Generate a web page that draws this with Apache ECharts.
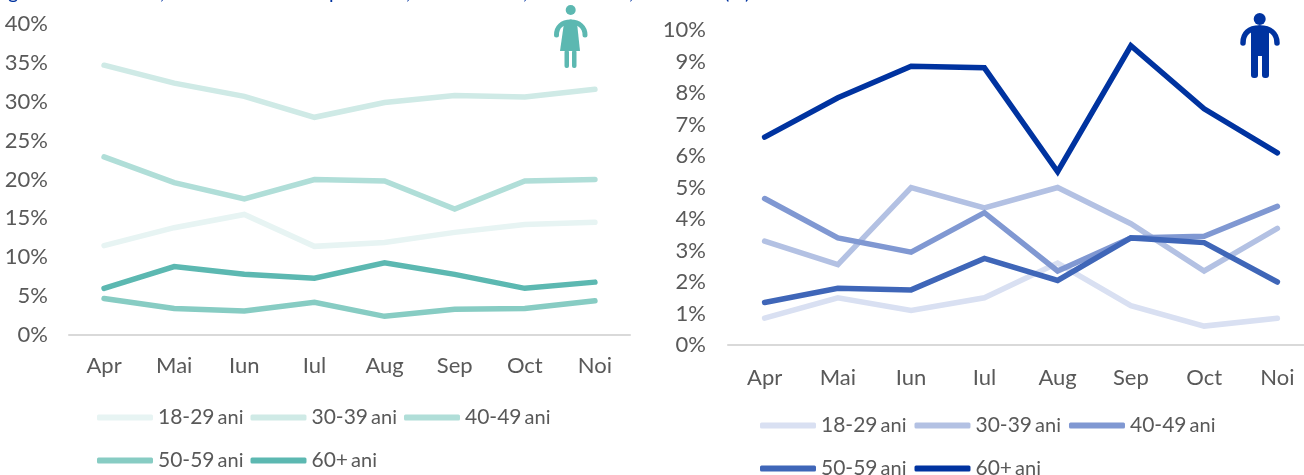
<!DOCTYPE html>
<html><head><meta charset="utf-8">
<style>html,body{margin:0;padding:0;background:#fff}#c{width:1304px;height:475px}</style>
<script src="https://cdn.jsdelivr.net/npm/echarts@6/dist/echarts.min.js"></script>
</head><body><div id="c"></div>
<script>
const months = ['Apr','Mai','Iun','Iul','Aug','Sep','Oct','Noi'];
const groups = ['18-29 ani','30-39 ani','40-49 ani','50-59 ani','60+ ani'];
const women18 = [11.5,13.8,15.5,11.4,11.9,13.2,14.2,14.5];
const women30 = [34.7,32.4,30.7,28.0,29.9,30.8,30.6,31.6];
const women40 = [22.9,19.6,17.5,20.0,19.8,16.2,19.8,20.0];
const women50 = [4.7,3.4,3.1,4.2,2.4,3.3,3.4,4.4];
const women60 = [6.0,8.8,7.8,7.3,9.3,7.8,6.0,6.8];
const men18 = [0.85,1.5,1.1,1.5,2.6,1.25,0.6,0.85];
const men30 = [3.3,2.55,5.0,4.35,5.0,3.85,2.35,3.7];
const men40 = [4.65,3.4,2.95,4.2,2.35,3.4,3.45,4.4];
const men50 = [1.35,1.8,1.75,2.75,2.05,3.4,3.25,2.0];
const men60 = [6.6,7.85,8.85,8.8,5.5,9.5,7.5,6.1];
const womenColors = ['#e7f4f3','#cfeae6','#b0ded8','#87ccc3','#5cb8b1'];
const menColors = ['#d9e0f2','#b3c1e3','#8098d2','#3f66b8','#0033a0'];
const FONT = 'Lato, "Open Sans", sans-serif';
const GREY = '#595959';

function mkSeries(vals, colors, ax, w){
  return vals.map((d,i)=>({
    name:groups[i], type:'line', data:d, xAxisIndex:ax, yAxisIndex:ax,
    symbol:'none', smooth:false, z:2+i,
    lineStyle:{color:colors[i],width:w,cap:'round',join:'miter'},
    itemStyle:{color:colors[i]}, emphasis:{disabled:true}
  }));
}
function mkLegend(from, to, colors, left, top, gap){
  return {
    left, top, orient:'horizontal',
    data:groups.slice(from,to).map((n,i)=>({name:n,icon:'roundRect',
      itemStyle:{color:colors[from+i],borderWidth:0},lineStyle:{color:colors[from+i]}})),
    itemWidth:56, itemHeight:6, itemGap:gap, selectedMode:false, padding:0,
    formatter:n=>{const p=n.split(' ');return '{a|'+p[0]+'} {b|'+p[1]+'}';},
    textStyle:{color:GREY,fontFamily:FONT,
      rich:{a:{fontSize:21,color:GREY,fontFamily:FONT},b:{fontSize:20,color:GREY,fontFamily:FONT}}}
  };
}
const titleBits = [['g',8],[',',160],['p',329],[',',406],[',',523],[',',629],['(',724],[')',745]];
const w = '#5cb8b1', m = '#0033a0';
const arm = (x1,y1,cx1,cy1,cx2,cy2,x2,y2,c,lw)=>({type:'bezierCurve',silent:true,
  shape:{x1,y1,cpx1:cx1,cpy1:cy1,cpx2:cx2,cpy2:cy2,x2,y2},style:{fill:'none',stroke:c,lineWidth:lw,lineCap:'round'}});
const option = {
  animation:false, backgroundColor:'#fff',
  grid:[
    {left:69,top:24,width:561,height:311,outerBoundsMode:'none'},
    {left:728,top:30,width:586,height:315,outerBoundsMode:'none'}
  ],
  xAxis:[0,1].map(i=>({gridIndex:i,type:'category',data:months,boundaryGap:true,
    axisTick:{show:false},axisLine:{lineStyle:{color:'#d9d9d9',width:2}},
    axisLabel:{color:GREY,fontFamily:FONT,fontSize:22,margin:i?22:20,interval:0,hideOverlap:false}})),
  yAxis:[
    {gridIndex:0,type:'value',min:0,max:40,interval:5,splitLine:{show:false},axisLine:{show:false},axisTick:{show:false},
      axisLabel:{color:GREY,fontFamily:FONT,fontSize:22,margin:21,formatter:'{value}%'}},
    {gridIndex:1,type:'value',min:0,max:10,interval:1,splitLine:{show:false},axisLine:{show:false},axisTick:{show:false},
      axisLabel:{color:GREY,fontFamily:FONT,fontSize:22,margin:22,formatter:'{value}%'}}
  ],
  legend:[
    mkLegend(0,3,womenColors,97,407,7),
    mkLegend(3,5,womenColors,97,450,7),
    mkLegend(0,3,menColors,760,415,8),
    mkLegend(3,5,menColors,760,458,8)
  ],
  series:[
    ...mkSeries([women18,women30,women40,women50,women60],womenColors,0,5.5),
    ...mkSeries([men18,men30,men40,men50,men60],menColors,1,5.5)
  ],
  graphic:[
    ...titleBits.map(b=>({type:'text',x:b[1],y:-17,silent:true,
      style:{text:b[0],fill:'#0033a0',font:'20px Lato, sans-serif'}})),
    {type:'circle',shape:{cx:570.7,cy:10,r:5},style:{fill:w},silent:true},
    arm(556.5,35,556.5,27,562,22,570.7,22,w,5),
    arm(570.7,22,579,22,585,27,585,35,w,5),
    {type:'polygon',silent:true,shape:{points:[[564,23],[577,23],[580,51],[560,51]]},style:{fill:w}},
    {type:'rect',silent:true,shape:{x:564.5,y:50,width:4.5,height:18,r:2},style:{fill:w}},
    {type:'rect',silent:true,shape:{x:572,y:50,width:4.5,height:18,r:2},style:{fill:w}},
    {type:'circle',shape:{cx:1259.7,cy:19,r:6},style:{fill:m},silent:true},
    arm(1243,43,1243,33,1249,28,1259.7,28,m,5.5),
    arm(1259.7,28,1270,28,1277,33,1277,43,m,5.5),
    {type:'rect',silent:true,shape:{x:1251,y:27,width:18,height:29},style:{fill:m}},
    {type:'rect',silent:true,shape:{x:1251,y:50,width:7,height:28,r:3},style:{fill:m}},
    {type:'rect',silent:true,shape:{x:1262,y:50,width:7,height:28,r:3},style:{fill:m}}
  ]
};
echarts.init(document.getElementById('c'),null,{renderer:'canvas'}).setOption(option);
</script></body></html>
